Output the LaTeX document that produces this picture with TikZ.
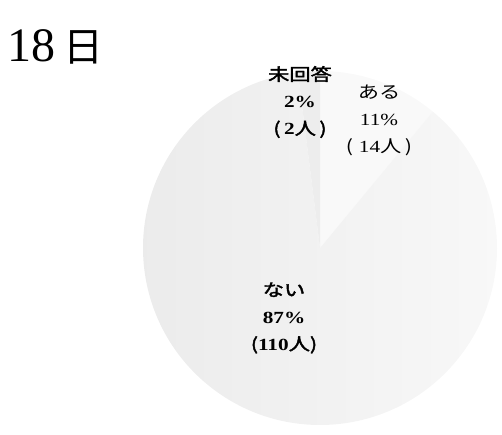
\documentclass[tikz,border=0pt]{standalone}
\usepackage{fontspec}
\newfontfamily\cjk{Noto Sans CJK JP}[AutoFakeBold=2]
\newfontfamily\numfont{Liberation Serif}
\usetikzlibrary{positioning}
\newcommand\wide[1]{\scalebox{1.25}[1]{#1}}
\newcommand\dig[1]{{\numfont\bfseries #1}}
\tikzset{
    lbl/.style={align=center, inner sep=0, font=\cjk\fontsize{17}{27}\selectfont},
    slice/.style={draw=none},
  }

\begin{document}
\begin{tikzpicture}[x=1pt, y=1pt]
  \useasboundingbox (0,0) rectangle (502,435);
  % pie, starting at the top, clockwise
  \coordinate (c) at (320,187);
  \fill[slice, gray!5] (c) -- ++(90:177) arc[start angle=90, end angle=50.4, radius=177] -- cycle;
  \shade[slice, left color=gray!16, right color=gray!5] (c) -- ++(50.4:177) arc[start angle=50.4, end angle=-262.8, radius=177] -- cycle;
  \fill[slice, gray!14] (c) -- ++(97.2:177) arc[start angle=97.2, end angle=90, radius=177] -- cycle;

  \node (title) at (55,388) {\numfont\fontsize{48}{48}\selectfont 18\,{\cjk\fontsize{40}{40}\selectfont 日}};

  \node (mikaito) [lbl] at (300,333) {\wide{\bfseries 未回答}\\ \wide{\dig{2\%}}\\ \wide{\bfseries (\,\dig{2}人\,)}};
  \node (aru) [lbl] at (379,315) {\wide{ある}\\ \wide{\numfont 11\%}\\ \wide{(\;{\numfont 14}人\,)}};
  \node (nai) [lbl] at (284,117) {\wide{\bfseries ない}\\ \wide{\dig{87\%}}\\ \wide{\bfseries (\dig{110}人)}};
\end{tikzpicture}
\end{document}
